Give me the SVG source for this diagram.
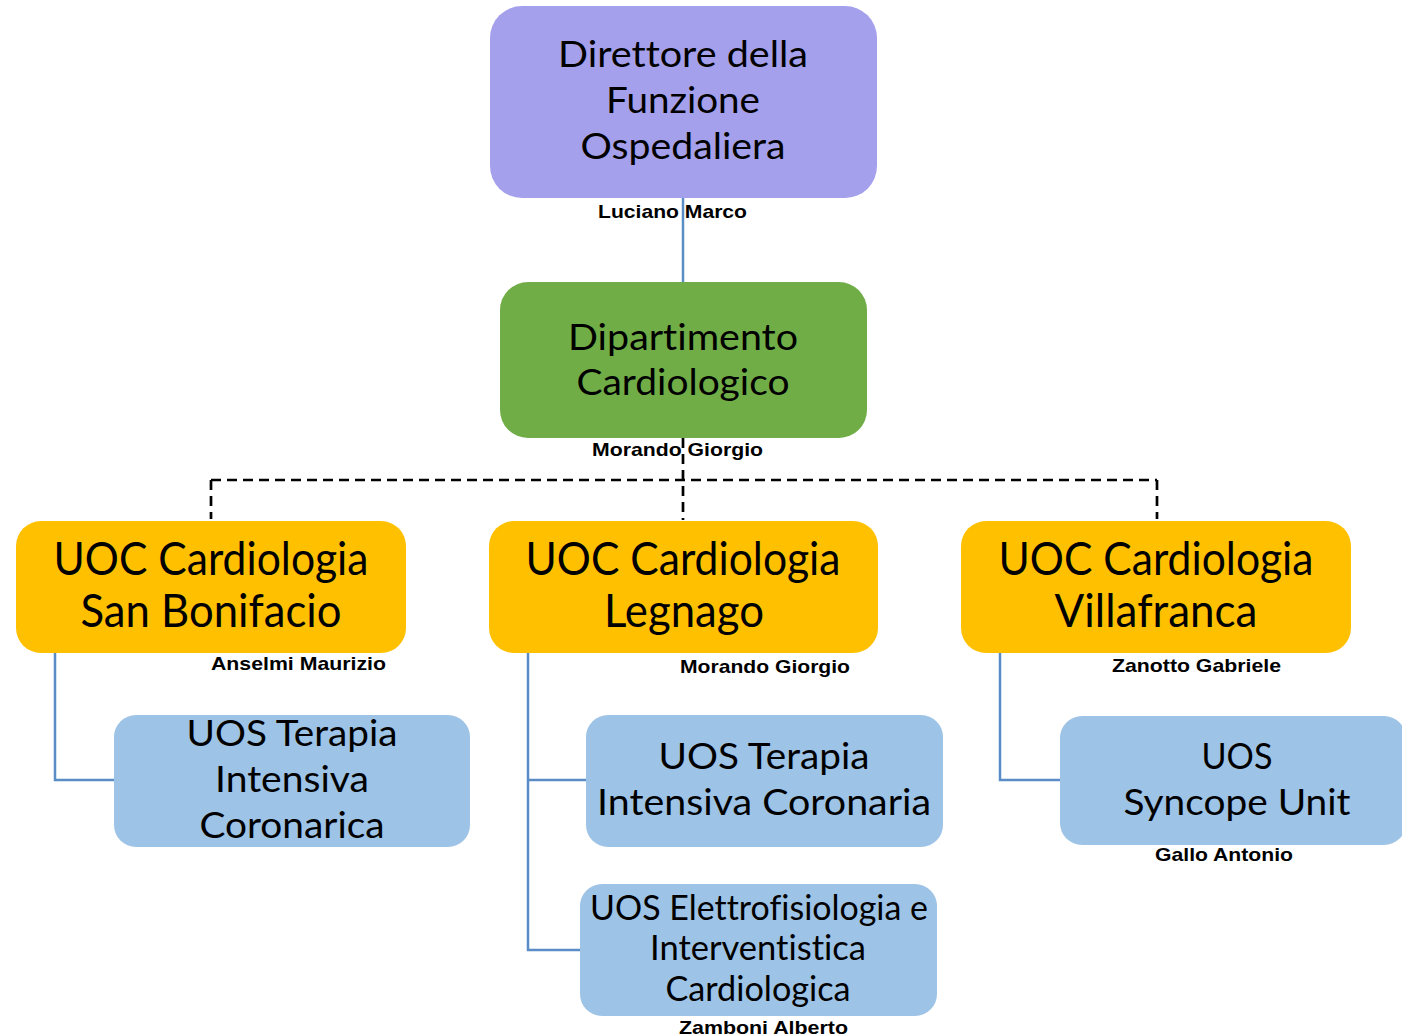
<svg xmlns="http://www.w3.org/2000/svg" width="1402" height="1036" viewBox="0 0 1402 1036">
<style>
.box{stroke:none}
.t{font-family:"Lato","Open Sans","Noto Sans",sans-serif;fill:#000;text-anchor:middle;font-variant-ligatures:none}
.n{font-family:"Liberation Sans",Arial,sans-serif;font-weight:bold;font-size:19px;fill:#000;text-anchor:start}
.blue{fill:none;stroke:#5A8CC6;stroke-width:2.5}
.dash{fill:none;stroke:#000;stroke-width:2.7;stroke-dasharray:10 6}
</style>
<rect width="1402" height="1036" fill="#fff"/>
<g id="connectors">
<path class="blue" d="M683 198V282"/>
<path class="dash" d="M211 480H1157M211 480V519M683 438V520M1157 480V519"/>
<path class="blue" d="M55 653V780H114"/>
<path class="blue" d="M528 653V950H580M528 780H586"/>
<path class="blue" d="M1000 653V780H1060"/>
</g>
<g id="direttore">
<rect class="box" x="490" y="6" width="387" height="192" rx="32" fill="#A5A0EC"/>
<text class="t" font-size="37"><tspan x="683" y="67" textLength="250" lengthAdjust="spacingAndGlyphs">Direttore della</tspan><tspan x="683" y="113" textLength="154" lengthAdjust="spacingAndGlyphs">Funzione</tspan><tspan x="683" y="159" textLength="205" lengthAdjust="spacingAndGlyphs">Ospedaliera</tspan></text>
<text class="n" x="598" y="218" textLength="149" lengthAdjust="spacingAndGlyphs">Luciano Marco</text>
</g>
<g id="dipartimento">
<rect class="box" x="500" y="282" width="367" height="156" rx="28" fill="#70AD47"/>
<text class="t" font-size="37"><tspan x="683" y="350" textLength="230" lengthAdjust="spacingAndGlyphs">Dipartimento</tspan><tspan x="683" y="395" textLength="213" lengthAdjust="spacingAndGlyphs">Cardiologico</tspan></text>
<text class="n" x="592" y="456" textLength="171" lengthAdjust="spacingAndGlyphs">Morando Giorgio</text>
</g>
<g id="uoc-sanbonifacio">
<rect class="box" x="16" y="521" width="390" height="132" rx="25" fill="#FFC000"/>
<text class="t" font-size="46"><tspan x="211" y="575" textLength="315" lengthAdjust="spacingAndGlyphs">UOC Cardiologia</tspan><tspan x="211" y="627" textLength="261" lengthAdjust="spacingAndGlyphs">San Bonifacio</tspan></text>
<text class="n" x="211" y="670" textLength="175" lengthAdjust="spacingAndGlyphs">Anselmi Maurizio</text>
</g>
<g id="uoc-legnago">
<rect class="box" x="489" y="521" width="389" height="132" rx="25" fill="#FFC000"/>
<text class="t" font-size="46"><tspan x="683" y="575" textLength="315" lengthAdjust="spacingAndGlyphs">UOC Cardiologia</tspan><tspan x="684" y="627" textLength="160" lengthAdjust="spacingAndGlyphs">Legnago</tspan></text>
<text class="n" x="680" y="673" textLength="170" lengthAdjust="spacingAndGlyphs">Morando Giorgio</text>
</g>
<g id="uoc-villafranca">
<rect class="box" x="961" y="521" width="390" height="132" rx="25" fill="#FFC000"/>
<text class="t" font-size="46"><tspan x="1156" y="575" textLength="315" lengthAdjust="spacingAndGlyphs">UOC Cardiologia</tspan><tspan x="1156" y="627" textLength="203" lengthAdjust="spacingAndGlyphs">Villafranca</tspan></text>
<text class="n" x="1112" y="672" textLength="169" lengthAdjust="spacingAndGlyphs">Zanotto Gabriele</text>
</g>
<g id="uos-tic-sanbonifacio">
<rect class="box" x="114" y="715" width="356" height="132" rx="22" fill="#9DC3E6"/>
<text class="t" font-size="37"><tspan x="292" y="746" textLength="211" lengthAdjust="spacingAndGlyphs">UOS Terapia</tspan><tspan x="292" y="792" textLength="154" lengthAdjust="spacingAndGlyphs">Intensiva</tspan><tspan x="292" y="838" textLength="185" lengthAdjust="spacingAndGlyphs">Coronarica</tspan></text>
</g>
<g id="uos-tic-legnago">
<rect class="box" x="586" y="715" width="357" height="132" rx="22" fill="#9DC3E6"/>
<text class="t" font-size="37"><tspan x="764" y="769" textLength="211" lengthAdjust="spacingAndGlyphs">UOS Terapia</tspan><tspan x="764" y="815" textLength="334" lengthAdjust="spacingAndGlyphs">Intensiva Coronaria</tspan></text>
</g>
<g id="uos-elettrofisiologia">
<rect class="box" x="580" y="884" width="357" height="132" rx="22" fill="#9DC3E6"/>
<text class="t" font-size="34"><tspan x="759" y="920" textLength="338" lengthAdjust="spacingAndGlyphs">UOS Elettrofisiologia e</tspan><tspan x="758" y="960" textLength="216" lengthAdjust="spacingAndGlyphs">Interventistica</tspan><tspan x="758" y="1001" textLength="185" lengthAdjust="spacingAndGlyphs">Cardiologica</tspan></text>
<text class="n" x="679" y="1034" textLength="169" lengthAdjust="spacingAndGlyphs">Zamboni Alberto</text>
</g>
<g id="uos-syncope">
<rect class="box" x="1060" y="716" width="346" height="129" rx="22" fill="#9DC3E6"/>
<text class="t" font-size="37"><tspan x="1237" y="769" textLength="71" lengthAdjust="spacingAndGlyphs">UOS</tspan><tspan x="1237" y="815" textLength="227" lengthAdjust="spacingAndGlyphs">Syncope Unit</tspan></text>
<text class="n" x="1155" y="861" textLength="138" lengthAdjust="spacingAndGlyphs">Gallo Antonio</text>
</g>
</svg>
